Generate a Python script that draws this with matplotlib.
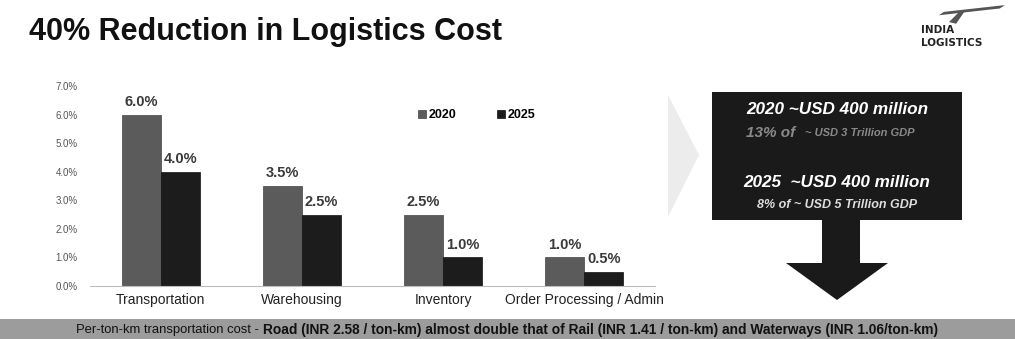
import matplotlib
matplotlib.use("Agg")
from matplotlib import pyplot as plt
from matplotlib.patches import Polygon, Rectangle
import numpy as np

categories = ["Transportation", "Warehousing", "Inventory", "Order Processing / Admin"]
cost_2020 = [6.0, 3.5, 2.5, 1.0]
cost_2025 = [4.0, 2.5, 1.0, 0.5]
yticks = [0, 1, 2, 3, 4, 5, 6, 7]

plt.rcParams['font.family'] = ['Liberation Sans', 'DejaVu Sans']

fig = plt.figure(figsize=(10.15, 3.39), dpi=100)
fig.patch.set_facecolor("white")

# 标题
fig.text(0.029, 0.905, "40% Reduction in Logistics Cost", fontsize=22, fontweight="bold",
         color="#111111", va="center", ha="left")

# logo
fig.text(0.907, 0.912, "INDIA", fontsize=7.5, fontweight="bold", color="#222222", va="center",
         family=["DejaVu Sans"])
fig.text(0.907, 0.872, "LOGISTICS", fontsize=7.5, fontweight="bold", color="#222222", va="center",
         family=["DejaVu Sans"])
fig.add_artist(Polygon([[0.925, 0.955], [0.985, 0.975], [0.990, 0.985], [0.930, 0.965]],
                       closed=True, transform=fig.transFigure, color="#555555", lw=0))
fig.add_artist(Polygon([[0.935, 0.935], [0.945, 0.965], [0.950, 0.965], [0.942, 0.930]],
                       closed=True, transform=fig.transFigure, color="#555555", lw=0))

# 柱状图
ax = fig.add_axes([90/1015, 1-286/339, 565/1015, 200/339])
x = np.arange(len(categories))
w = 0.276
b1 = ax.bar(x - w/2, cost_2020, w, color="#5b5b5b", label="2020", edgecolor="#444444", lw=0.5)
b2 = ax.bar(x + w/2, cost_2025, w, color="#1c1c1c", label="2025", edgecolor="#111111", lw=0.5)
for bars in (b1, b2):
    for r in bars:
        ax.annotate("{:.1f}%".format(r.get_height()), (r.get_x() + r.get_width()/2, r.get_height()),
                    xytext=(0, 4), textcoords="offset points", ha="center", va="bottom",
                    fontsize=10.5, fontweight="bold", color="#3a3a3a")
ax.set_xlim(-0.5, 3.5)
ax.set_ylim(0, 7)
ax.set_yticks(yticks)
ax.set_yticklabels(["{:.1f}%".format(v) for v in yticks], fontsize=7, color="#555555")
ax.set_xticks(x)
ax.set_xticklabels(categories, fontsize=10, color="#222222")
ax.tick_params(length=0, pad=5)
ax.tick_params(axis="y", pad=9)
for s in ["top", "right", "left"]:
    ax.spines[s].set_visible(False)
ax.spines["bottom"].set_color("#bbbbbb")
ax.legend(loc="upper left", bbox_to_anchor=(0.56, 0.94), ncol=2, frameon=False,
          handlelength=0.7, handleheight=0.7, handletextpad=0.2, columnspacing=3.2,
          prop={"weight": "bold", "size": 9})

# 灰色箭头
fig.add_artist(Polygon([[668/1015, 1-95/339], [699/1015, 1-155/339], [668/1015, 1-217/339]],
                       closed=True, transform=fig.transFigure, color="#ececec", lw=0))

# 黑色方框和向下箭头
fig.add_artist(Rectangle((712/1015, 1-220/339), 250/1015, 128/339,
                         transform=fig.transFigure, color="#1a1a1a", lw=0))
fig.add_artist(Polygon([[822/1015, 1-220/339], [860/1015, 1-220/339], [860/1015, 1-263/339],
                        [888/1015, 1-263/339], [837/1015, 1-300/339], [786/1015, 1-263/339],
                        [822/1015, 1-263/339]],
                       closed=True, transform=fig.transFigure, color="#1a1a1a", lw=0))
cx = 837/1015
fig.text(cx, 1-109/339, "2020 ~USD 400 million", fontsize=12.3, fontweight="bold", style="italic",
         color="white", ha="center", va="center")
fig.text(746/1015, 1-133/339, "13% of", fontsize=11, fontweight="bold", style="italic",
         color="#8a8a8a", ha="left", va="center")
fig.text(805/1015, 1-133/339, "~ USD 3 Trillion GDP", fontsize=8, fontweight="bold", style="italic",
         color="#8a8a8a", ha="left", va="center")
fig.text(cx, 1-183/339, "2025  ~USD 400 million", fontsize=12.3, fontweight="bold", style="italic",
         color="white", ha="center", va="center")
fig.text(cx, 1-205/339, "8% of ~ USD 5 Trillion GDP", fontsize=9, fontweight="bold", style="italic",
         color="#dddddd", ha="center", va="center")

# 底部说明
fig.add_artist(Rectangle((0, 0), 1, 20/339, transform=fig.transFigure, color="#9c9c9c", lw=0))
fig.text(263/1015, 1-330/339, "Per-ton-km transportation cost - ", fontsize=9.4, color="#111111",
         ha="right", va="center")
fig.text(263/1015, 1-330/339,
         "Road (INR 2.58 / ton-km) almost double that of Rail (INR 1.41 / ton-km) and Waterways (INR 1.06/ton-km)",
         fontsize=9.95, fontweight="bold", color="#111111", ha="left", va="center")

plt.savefig("out.png", dpi=100)
